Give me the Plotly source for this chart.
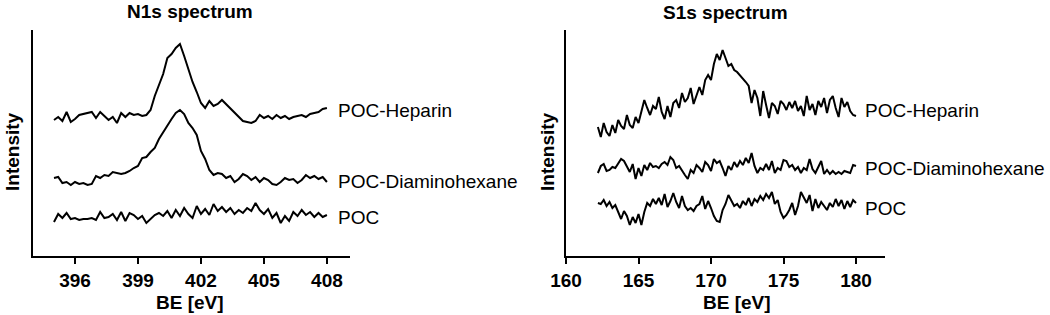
import numpy as np
import plotly.graph_objects as go

# N1s spectrum: BE grid 395.0..408.0 step 0.2
n1s_be = np.round(np.arange(395.0, 408.0001, 0.2), 1)
n1s_heparin = [136, 139, 135, 144, 134, 137, 141, 142, 143, 144,
               138, 144, 140, 136, 139, 133, 143, 139, 143, 141,
               142, 140, 141, 146, 160, 172, 182, 198, 202, 208,
               212, 200, 186, 174, 164, 153, 148, 155, 150, 152,
               156, 152, 147, 143, 139, 135, 134, 133, 135, 141,
               138, 140, 137, 141, 138, 140, 137, 139, 140, 141,
               139, 142, 143, 144, 147, 148]
n1s_diamino = [78, 79, 73, 74, 71, 74, 72, 73, 71, 72,
               80, 78, 81, 80, 84, 83, 82, 83, 85, 88,
               90, 98, 99, 104, 108, 117, 124, 131, 137, 143,
               146, 142, 133, 128, 121, 105, 97, 86, 81, 83,
               82, 78, 80, 74, 77, 82, 80, 76, 79, 74,
               78, 76, 72, 71, 74, 78, 76, 77, 73, 76,
               81, 78, 80, 77, 79, 74]
n1s_poc = [34, 42, 38, 43, 37, 38, 36, 37, 37, 38,
           36, 44, 38, 39, 42, 36, 44, 35, 43, 41,
           37, 40, 33, 37, 41, 43, 40, 45, 38, 46,
           40, 48, 42, 38, 50, 42, 47, 41, 52, 45,
           49, 44, 48, 42, 46, 43, 48, 45, 53, 46,
           42, 47, 38, 43, 33, 40, 35, 44, 40, 46,
           41, 44, 39, 43, 39, 41]

# S1s spectrum: BE grid 162.2..180.0 step 0.2
s1s_be = np.round(np.arange(162.2, 180.0001, 0.2), 1)
s1s_heparin = [129, 119, 133, 124, 120, 131, 123, 136, 130, 127,
               141, 131, 128, 139, 133, 145, 156, 148, 141, 150,
               147, 159, 144, 137, 150, 139, 153, 156, 148, 163,
               154, 158, 168, 152, 160, 169, 161, 176, 181, 176,
               192, 202, 196, 206, 198, 190, 192, 186, 184, 181,
               177, 174, 170, 153, 166, 158, 140, 165, 151, 138,
               153, 150, 142, 155, 152, 146, 154, 148, 155, 145,
               150, 140, 160, 146, 152, 141, 155, 149, 158, 143,
               156, 160, 148, 139, 158, 149, 154, 145, 141, 140]
s1s_diamino = [83, 90, 92, 85, 86, 89, 88, 92, 97, 95,
               89, 84, 92, 77, 88, 80, 91, 86, 93, 89,
               90, 88, 92, 94, 91, 99, 96, 88, 90, 85,
               81, 77, 86, 83, 91, 88, 84, 94, 91, 85,
               97, 93, 95, 88, 80, 90, 86, 94, 89, 95,
               91, 98, 93, 103, 90, 83, 88, 86, 92, 86,
               95, 83, 88, 86, 96, 95, 89, 91, 86, 89,
               83, 88, 86, 97, 87, 83, 89, 95, 82, 86,
               82, 85, 82, 84, 82, 85, 84, 83, 91, 90]
s1s_poc = [53, 52, 56, 50, 54, 48, 51, 43, 37, 45,
           40, 31, 39, 33, 42, 31, 44, 53, 50, 57,
           52, 58, 51, 62, 49, 55, 63, 54, 48, 60,
           50, 46, 48, 45, 50, 52, 60, 47, 55, 48,
           40, 35, 34, 46, 52, 61, 55, 50, 52, 48,
           55, 51, 58, 50, 57, 54, 60, 56, 62, 58,
           64, 52, 56, 44, 38, 41, 46, 53, 41, 50,
           64, 58, 53, 61, 45, 57, 48, 54, 50, 46,
           53, 49, 57, 50, 56, 47, 55, 49, 56, 53]

series_names = ["POC-Heparin", "POC-Diaminohexane", "POC"]
n1s_ticks = [396, 399, 402, 405, 408]
s1s_ticks = [160, 165, 170, 175, 180]

W, H = 1050, 315
FONT = "Liberation Sans, Arial, sans-serif"
line = dict(color="black", width=2)

fig = go.Figure()
for ys in (n1s_heparin, n1s_diamino, n1s_poc):
    fig.add_trace(go.Scatter(x=n1s_be, y=ys, mode="lines", line=line,
                             xaxis="x", yaxis="y", showlegend=False, hoverinfo="skip"))
for ys in (s1s_heparin, s1s_diamino, s1s_poc):
    fig.add_trace(go.Scatter(x=s1s_be, y=ys, mode="lines", line=line,
                             xaxis="x2", yaxis="y2", showlegend=False, hoverinfo="skip"))

def px(x):
    return x / W

def py(y):
    return 1 - y / H

xcommon = dict(showline=True, linecolor="black", linewidth=2, ticks="outside",
               ticklen=6, tickwidth=2, tickcolor="black", showgrid=False, zeroline=False,
               automargin=False,
               tickfont=dict(family=FONT, size=19, color="black", weight="bold"))
ycommon = dict(showline=True, linecolor="black", linewidth=2, showticklabels=False,
               ticks="", showgrid=False, zeroline=False, range=[0, 226], automargin=False)

ydom = [py(256), py(30)]
fig.update_layout(
    template="none",
    width=W, height=H, margin=dict(l=0, r=0, t=0, b=0, autoexpand=False),
    plot_bgcolor="white", paper_bgcolor="white",
    xaxis=dict(domain=[px(33), px(350)], range=[394, 409.1], tickvals=n1s_ticks,
               anchor="y", **xcommon),
    yaxis=dict(domain=ydom, anchor="x", **ycommon),
    xaxis2=dict(domain=[px(566), px(885)], range=[160, 182], tickvals=s1s_ticks,
                anchor="y2", **xcommon),
    yaxis2=dict(domain=ydom, anchor="x2", **ycommon),
)

bold = dict(family=FONT, size=19, color="black", weight="bold")
reg = dict(family=FONT, size=19, color="black")
ann = []
ann.append(dict(text="N1s spectrum", x=px(190), y=py(12), font=bold))
ann.append(dict(text="S1s spectrum", x=px(725), y=py(13), font=bold))
ann.append(dict(text="BE [eV]", x=px(190), y=py(302), font=bold))
ann.append(dict(text="BE [eV]", x=px(737), y=py(302), font=bold))
ann.append(dict(text="Intensity", x=px(12), y=py(152), font=bold, textangle=-90))
ann.append(dict(text="Intensity", x=px(547), y=py(152), font=bold, textangle=-90))
for name, yy in zip(series_names, [110, 182, 217]):
    ann.append(dict(text=name, x=px(336), y=py(yy), font=reg, xanchor="left"))
for name, yy in zip(series_names, [110, 168, 208]):
    ann.append(dict(text=name, x=px(863), y=py(yy), font=reg, xanchor="left"))
for a in ann:
    a.setdefault("xanchor", "center")
    a.update(xref="paper", yref="paper", yanchor="middle", showarrow=False)
fig.update_layout(annotations=ann)

# remove the default page margin so the figure sits at the window's corner
fig.write_html("out.html", config={"displayModeBar": False},
               post_script="document.body.style.margin='0';document.body.style.overflow='hidden';")
